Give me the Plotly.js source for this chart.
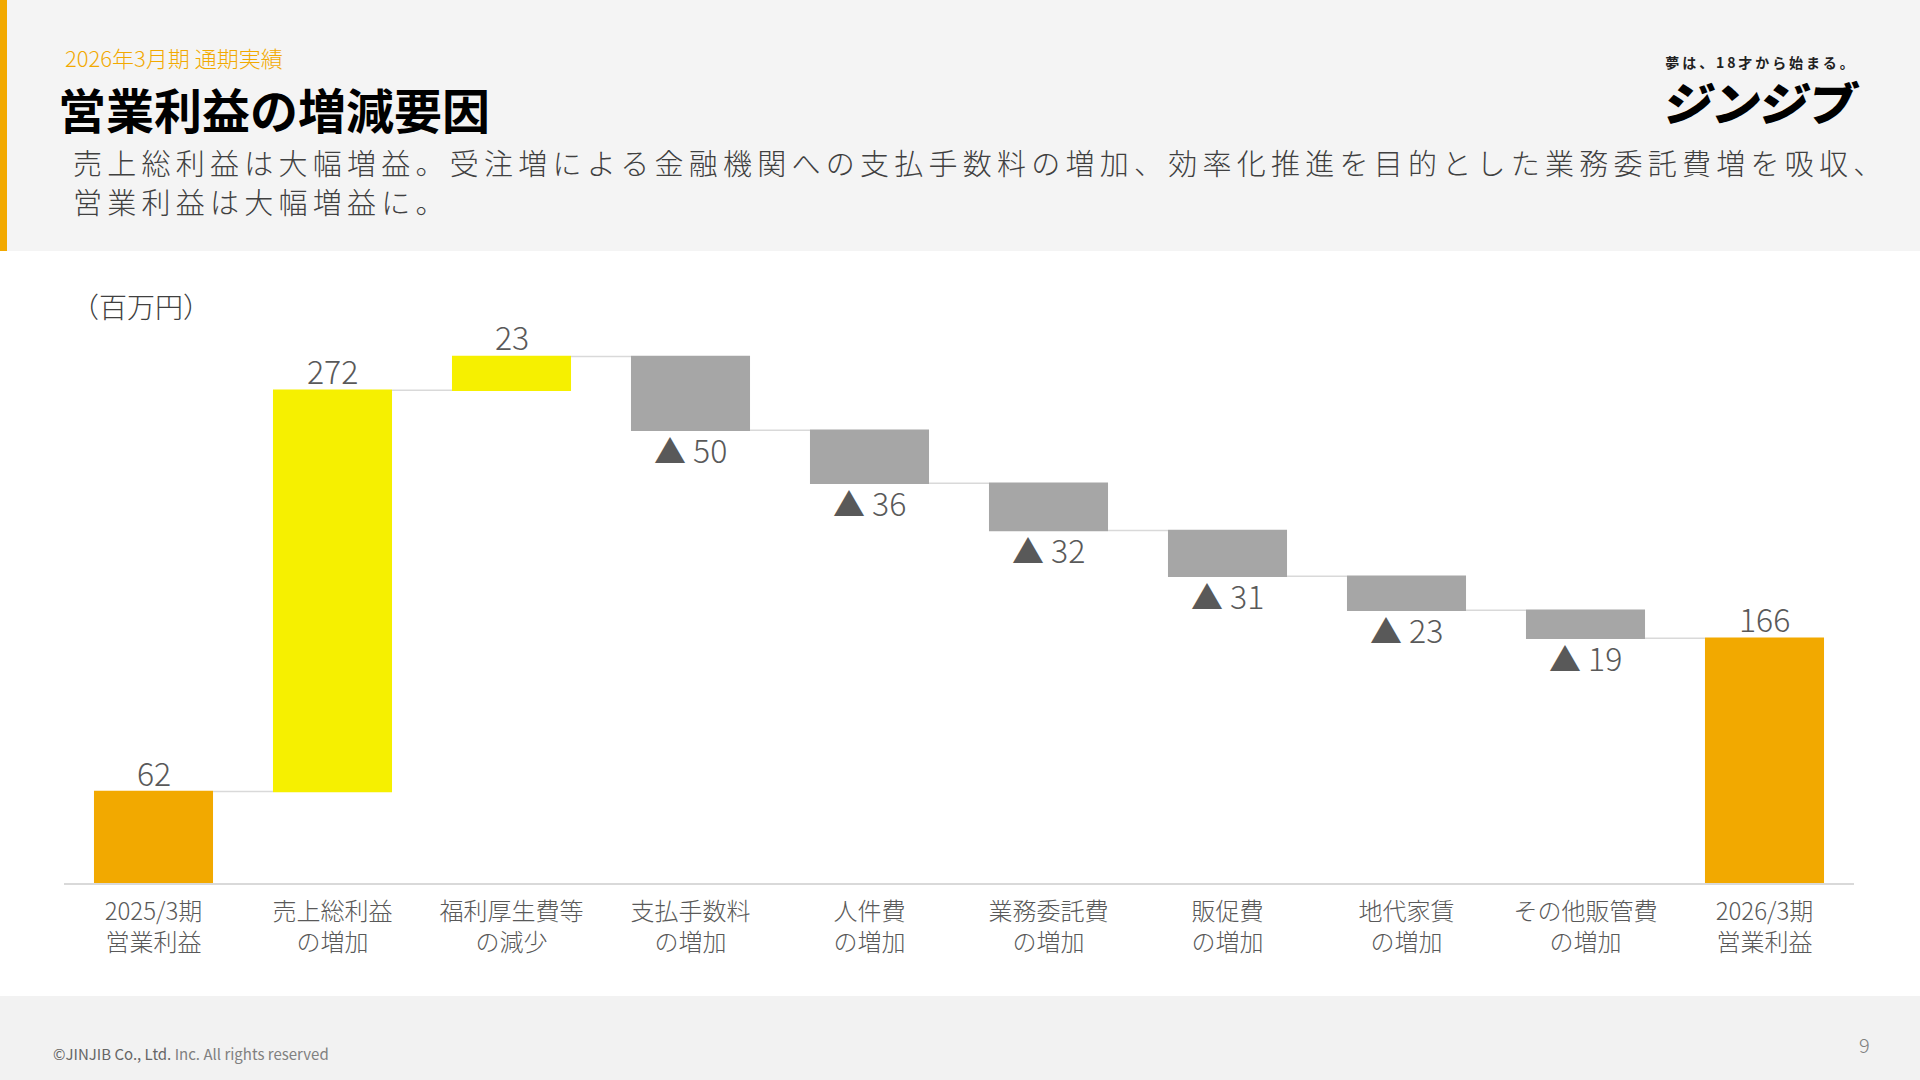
<!DOCTYPE html>
<html>
<head>
<meta charset="utf-8">
<script src="https://cdn.plot.ly/plotly-3.0.1.min.js"></script>
<style>
  html, body { margin: 0; padding: 0; }
  body { width: 1920px; height: 1080px; position: relative; overflow: hidden; background: #ffffff;
         font-family: "Noto Sans CJK JP", "Noto Sans", sans-serif; }
  .abs { position: absolute; white-space: nowrap; }
  #chart { position: absolute; left: 0; top: 0; width: 1920px; height: 1080px; }
  .txt { z-index: 5; pointer-events: none; }
</style>
</head>
<body>
<div class="abs" style="left:0;top:0;width:1920px;height:251px;background:#F4F4F4;"></div>
<div class="abs" style="left:0;top:0;width:7px;height:251px;background:#F2A900;"></div>
<div class="abs" style="left:0;top:996px;width:1920px;height:84px;background:#F2F2F2;"></div>
<div id="chart"></div>

<div class="abs txt" style="left:65px;top:46px;font-size:22px;line-height:22px;color:#F2A900;font-weight:300;">2026年3月期 通期実績</div>
<div class="abs txt" style="left:58px;top:84px;font-size:48px;line-height:48px;color:#000;font-weight:700;">営業利益の増減要因</div>
<div class="abs txt" style="left:73px;top:143px;font-size:29px;line-height:39px;color:#404040;font-weight:300;letter-spacing:5.25px;">売上総利益は大幅増益。受注増による金融機関への支払手数料の増加、効率化推進を目的とした業務委託費増を吸収、<br>営業利益は大幅増益に。</div>
<div class="abs txt" style="left:71px;top:290px;font-size:28px;line-height:32px;color:#404040;font-weight:300;">（百万円）</div>
<div class="abs txt" style="left:1650px;top:53px;width:222px;text-align:center;font-size:14px;line-height:18px;color:#222;font-weight:700;letter-spacing:2.9px;">夢は、18才から始まる。</div>
<div class="abs txt" style="left:1650px;top:77px;width:222px;text-align:center;font-size:46px;line-height:48px;color:#000;font-weight:900;transform:skewX(-10deg) scaleX(1.06);letter-spacing:-1px;">ジンジブ</div>
<div class="abs txt" style="left:53px;top:1045px;font-size:15px;line-height:18px;color:#808080;"><span style="color:#666">©JINJIB Co., Ltd.</span> Inc. All rights reserved</div>
<div class="abs txt" style="left:1859px;top:1033px;font-size:20px;line-height:24px;color:#808080;font-weight:300;">9</div>

<script>
const categories = [
  '2025/3期<br>営業利益',
  '売上総利益<br>の増加',
  '福利厚生費等<br>の減少',
  '支払手数料<br>の増加',
  '人件費<br>の増加',
  '業務委託費<br>の増加',
  '販促費<br>の増加',
  '地代家賃<br>の増加',
  'その他販管費<br>の増加',
  '2026/3期<br>営業利益'
];
const values = [62, 272, 23, -50, -36, -32, -31, -23, -19, 166];
const measures = ['absolute', 'relative', 'relative', 'relative', 'relative',
                  'relative', 'relative', 'relative', 'relative', 'total'];

const labels = values.map(v => v < 0 ? '▲ ' + Math.abs(v) : String(v));

const trace = {
  type: 'waterfall',
  x: categories,
  y: values,
  measure: measures,
  textinfo: 'none',
  hoverinfo: 'none',
  increasing: { marker: { color: '#F6F000', line: { width: 0 } } },
  decreasing: { marker: { color: '#A6A6A6', line: { width: 0 } } },
  totals: { marker: { color: '#F2A900', line: { width: 0 } } },
  connector: { mode: 'between', line: { color: '#D9D9D9', width: 1.5 } }
};

// label placement derived from the running level of the waterfall
const annotations = [];
let level = 0;
values.forEach((v, i) => {
  const m = measures[i];
  if (m === 'absolute') level = v;
  else if (m === 'relative') level += v;
  const below = (m === 'relative' && v < 0);
  annotations.push({
    x: categories[i], y: level, xref: 'x', yref: 'y',
    text: labels[i], showarrow: false,
    xanchor: 'center', yanchor: 'middle',
    yshift: below ? -19 : 20,
    font: { family: 'Noto Sans CJK JP, Noto Sans, sans-serif', size: 32, color: '#595959', weight: 300 }
  });
});

const layout = {
  width: 1920,
  height: 1080,
  margin: { l: 64, r: 66, t: 293, b: 197, pad: 0 },
  paper_bgcolor: 'rgba(0,0,0,0)',
  plot_bgcolor: 'rgba(0,0,0,0)',
  showlegend: false,
  waterfallgap: 0.335,
  font: { family: 'Noto Sans CJK JP, Noto Sans, sans-serif', color: '#595959' },
  annotations: annotations,
  xaxis: {
    type: 'category',
    range: [-0.5, 9.5],
    showline: true,
    linecolor: '#D9D9D9',
    linewidth: 2,
    ticks: '',
    showgrid: false,
    zeroline: false,
    tickfont: { size: 24, color: '#595959', weight: 300 },
    ticklabelstandoff: 6,
    fixedrange: true
  },
  yaxis: {
    range: [0, 400],
    visible: false,
    showgrid: false,
    zeroline: false,
    fixedrange: true
  }
};

Plotly.newPlot('chart', [trace], layout, { displayModeBar: false, staticPlot: true });
</script>
</body>
</html>
